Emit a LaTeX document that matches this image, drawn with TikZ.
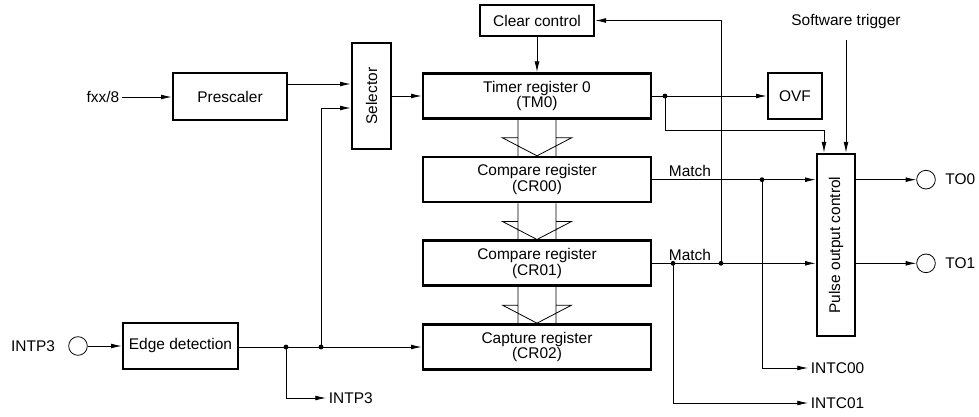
\documentclass[tikz,border=0pt]{standalone}
\usepackage{fontspec}
\setmainfont{Liberation Sans}
\usetikzlibrary{arrows.meta, calc, positioning}
\newcommand{\sigfont}{\fontsize{11.6}{10.8}\selectfont}
\tikzset{
    >={Latex[length=8pt,width=3.6pt]},
    node distance = 27pt, % gap between the stacked registers
    block/.style = {rectangle, draw, line width=2pt, inner sep=0pt, align=center, font=\sigfont},
    reg/.style = {minimum width=171pt, minimum height=33.75pt}, % the register boxes
    wire/.style = {->, line width=0.6pt},
    bus/.style = {line width=0.6pt, line join=miter},
    dot/.style = {circle, fill, inner sep=0pt, minimum size=3.6pt},
    pin/.style = {circle, draw, line width=0.6pt, inner sep=0pt, minimum size=14pt},
    txt/.style = {inner sep=2pt, font=\sigfont}
}
\begin{document}
\begin{tikzpicture}[x=0.75pt, y=-0.75pt]
    \useasboundingbox (0,0) rectangle (979,417);

    % blocks
    \node[block, minimum width=85.5pt, minimum height=35.25pt] (pre) at (230,96.5) {Prescaler};
    \node[block, minimum width=29.25pt, minimum height=79.5pt] (sel) at (371.5,96) {\rotatebox{90}{Selector}};
    \node[block, minimum width=85.5pt, minimum height=23.25pt] (clr) at (537,20.5) {Clear control};
    \node[block, reg] (tm) at (537,96) {Timer register 0\\(TM0)};
    \node[block, reg, below =of tm] (cr0) {Compare register\\(CR00)};
    \node[block, reg, below =of cr0] (cr1) {Compare register\\(CR01)};
    \node[block, reg, below =of cr1] (cr2) {Capture register\\(CR02)};
    \node[block, minimum width=40.5pt, minimum height=34.5pt] (ovf) at (795,96) {OVF};
    \node[block, minimum width=28.5pt, minimum height=136.5pt] (poc) at (836,245) {\rotatebox{90}{Pulse output control}};
    \node[block, minimum width=86.25pt, minimum height=34.5pt] (edge) at (180.5,346) {Edge detection};

    % terminals
    \node[pin] (p3) at (78,346) {};
    \node[pin] (t0) at (cr0 -| 926,0) {};
    \node[pin] (t1) at (cr1 -| 926,0) {};

    % branch points
    \node[dot] (ja) at (tm.east -| 665,0) {};
    \node[dot] (jb) at (cr0.east -| 762,0) {};
    \node[dot] (jc) at (cr1.east -| 673,0) {};
    \node[dot] (jd) at (cr1.east -| 721,0) {};
    \node[dot] (je) at (cr2.west -| 286,0) {};
    \node[dot] (jf) at (cr2.west -| 321,0) {};

    % labels
    \node[txt] (fx) at (103,97) {fxx/8};
    \node[txt] (sw) at (846,22) {Software trigger};
    \node[txt, anchor=south] (m0) at (cr0.east -| 690,0) {Match};
    \node[txt, anchor=south] (m1) at (cr1.east -| 690,0) {Match};
    \node[txt] (in3) at (33,346) {INTP3};
    \node[txt, anchor=west] (ip) at (326,398) {INTP3};
    \node[txt, anchor=west] (ic0) at (808,368) {INTC00};
    \node[txt, anchor=west] (ic1) at (808,403) {INTC01};
    \node[txt, right=5pt of t0] (lt0) {TO0};
    \node[txt, right=5pt of t1] (lt1) {TO1};

    % transfers between the registers
    \foreach \u/\l in {tm/cr0, cr0/cr1, cr1/cr2} {
        \draw[bus] ($(\u.south)+(-19,0)$) -- ($(\l.north)+(-19,0)$)
                   ($(\u.south)+(19,0)$) -- ($(\l.north)+(19,0)$)
                   ($(\u.south)!0.5!(\l.north)+(-19,0)$) -- ($(\u.south)!0.5!(\l.north)+(-34.5,0)$)
                   -- (\l.north) -- ($(\u.south)!0.5!(\l.north)+(34.5,0)$)
                   -- ($(\u.south)!0.5!(\l.north)+(19,0)$);
    }

    % count path
    \draw[wire] (fx.east) -- (fx.east -| pre.west);
    \draw[wire] (pre.east |- 0,84) -- (sel.west |- 0,84);
    \draw[wire] (jf.center) |- (sel.west |- 0,108);
    \draw[wire] (sel.east) -- (tm.west);
    \draw[wire] (clr) -- (tm);
    \draw[wire] (tm.east) -- (ovf.west);
    \draw[wire] (ja.center) -- (ja |- 0,130) -| ([xshift=-9pt]poc.north);
    \draw[wire] ([yshift=-6pt]sw.south) -- (sw.south |- poc.north);

    % match outputs
    \draw[wire] (cr0.east) -- (cr0.east -| poc.west);
    \draw[wire] (cr1.east) -- (cr1.east -| poc.west);
    \draw[wire] (jd.center) |- (clr.east);
    \draw[wire] (jb.center) |- (ic0.west);
    \draw[wire] (jc.center) |- (ic1.west);
    \draw[wire] (poc.east |- t0) -- (t0.west);
    \draw[wire] (poc.east |- t1) -- (t1.west);

    % capture input
    \draw[wire] (p3.east) -- (p3.east -| edge.west);
    \draw[wire] (edge.east |- cr2.west) -- (cr2.west);
    \draw[wire] (je.center) |- (ip.west);
\end{tikzpicture}
\end{document}
